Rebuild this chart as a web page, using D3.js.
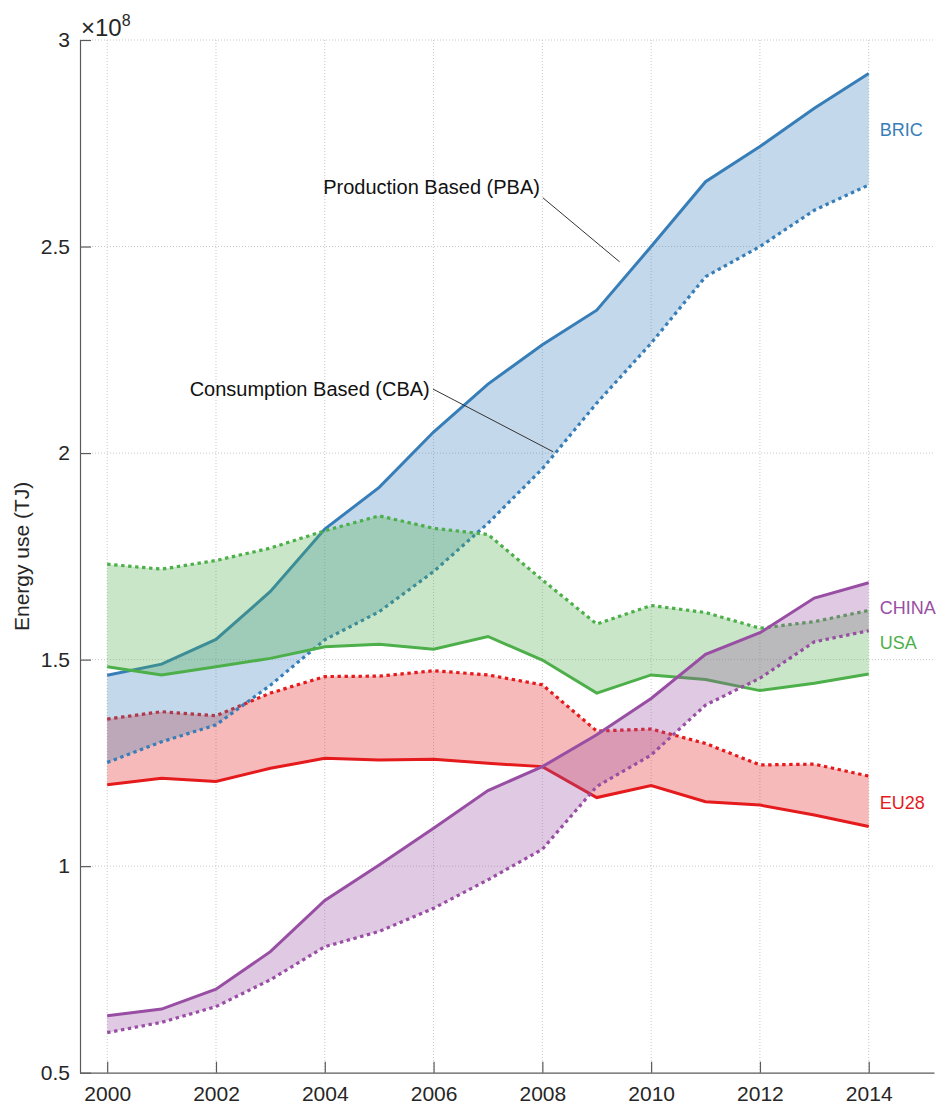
<!DOCTYPE html>
<html>
<head>
<meta charset="utf-8">
<script src="https://cdn.jsdelivr.net/npm/d3@7"></script>
<style>
  body { margin: 0; background: #fff; }
  svg text { font-family: "Liberation Sans", Arial, Helvetica, sans-serif; }
</style>
</head>
<body>
<div id="chart"></div>
<script>
// energy use, in units of 1e8 TJ
const years = [2000, 2001, 2002, 2003, 2004, 2005, 2006, 2007, 2008, 2009, 2010, 2011, 2012, 2013, 2014];

const bricPBA = [1.462, 1.489, 1.549, 1.665, 1.816, 1.917, 2.051, 2.167, 2.262, 2.346, 2.500, 2.657, 2.742, 2.835, 2.919];
const bricCBA = [1.251, 1.301, 1.342, 1.438, 1.548, 1.616, 1.713, 1.830, 1.962, 2.121, 2.266, 2.427, 2.500, 2.588, 2.649];

const usaPBA = [1.483, 1.463, 1.483, 1.503, 1.531, 1.537, 1.525, 1.556, 1.499, 1.419, 1.463, 1.452, 1.425, 1.443, 1.465];
const usaCBA = [1.731, 1.719, 1.740, 1.770, 1.812, 1.848, 1.818, 1.803, 1.693, 1.586, 1.631, 1.614, 1.576, 1.592, 1.619];

const eu28PBA = [1.197, 1.213, 1.205, 1.237, 1.261, 1.257, 1.259, 1.249, 1.241, 1.166, 1.195, 1.156, 1.148, 1.124, 1.096];
const eu28CBA = [1.356, 1.374, 1.364, 1.419, 1.459, 1.460, 1.473, 1.463, 1.439, 1.327, 1.332, 1.297, 1.245, 1.247, 1.218];

const chinaPBA = [0.638, 0.654, 0.702, 0.793, 0.917, 1.003, 1.092, 1.183, 1.241, 1.318, 1.406, 1.513, 1.565, 1.649, 1.686];
const chinaCBA = [0.597, 0.622, 0.660, 0.725, 0.805, 0.842, 0.898, 0.967, 1.041, 1.193, 1.269, 1.390, 1.455, 1.543, 1.570];

const xTicks = [2000, 2002, 2004, 2006, 2008, 2010, 2012, 2014];
const yTicks = [0.5, 1, 1.5, 2, 2.5, 3];

// label heights at the right end (same units as the data)
const labelNames = ["BRIC", "CHINA", "USA", "EU28"];
const labelValues = [2.782, 1.625, 1.540, 1.153];

// draw order matters: later fills tint earlier lines
const regions = [
  { name: "EU28", color: "#e41a1c", pba: eu28PBA, cba: eu28CBA },
  { name: "BRIC", color: "#377eb8", pba: bricPBA, cba: bricCBA },
  { name: "USA", color: "#4daf4a", pba: usaPBA, cba: usaCBA },
  { name: "CHINA", color: "#984ea3", pba: chinaPBA, cba: chinaCBA }
];

const width = 938;
const height = 1106;
const margin = { top: 40, right: 4, bottom: 33.3, left: 80 };

const svg = d3.select("#chart")
  .append("svg")
  .attr("width", width)
  .attr("height", height);

const x = d3.scaleLinear()
  .domain([1999.5, 2015.2])
  .range([margin.left, width - margin.right]);

const y = d3.scaleLinear()
  .domain([0.5, 3])
  .range([height - margin.bottom, margin.top]);

// grid
const grid = svg.append("g").attr("class", "grid");
grid.selectAll(".vgrid")
  .data(xTicks)
  .join("line")
  .attr("x1", d => x(d)).attr("x2", d => x(d))
  .attr("y1", y(3)).attr("y2", y(0.5))
  .attr("stroke", "#c8c8c8")
  .attr("stroke-width", 1)
  .attr("stroke-dasharray", "1,2");
grid.selectAll(".hgrid")
  .data(yTicks.filter(d => d > 0.5))
  .join("line")
  .attr("x1", x.range()[0]).attr("x2", x.range()[1])
  .attr("y1", d => y(d)).attr("y2", d => y(d))
  .attr("stroke", "#c8c8c8")
  .attr("stroke-width", 1)
  .attr("stroke-dasharray", "1,2");

// bands and lines
const area = d3.area()
  .x((d, i) => x(years[i]))
  .y0(d => y(d[0]))
  .y1(d => y(d[1]));
const line = d3.line()
  .x((d, i) => x(years[i]))
  .y(d => y(d));

regions.forEach(r => {
  const g = svg.append("g").attr("class", "region " + r.name);
  g.append("path")
    .datum(r.pba.map((v, i) => [v, r.cba[i]]))
    .attr("d", area)
    .attr("fill", r.color)
    .attr("fill-opacity", 0.3)
    .attr("stroke", "none");
  g.append("path")
    .datum(r.cba)
    .attr("d", line)
    .attr("fill", "none")
    .attr("stroke", r.color)
    .attr("stroke-width", 3.2)
    .attr("stroke-dasharray", "3.4,3.6");
  g.append("path")
    .datum(r.pba)
    .attr("d", line)
    .attr("fill", "none")
    .attr("stroke", r.color)
    .attr("stroke-width", 3);
});

// axes (ticks pointing inward, like matlab)
const xAxis = svg.append("g")
  .attr("transform", `translate(0,${y(0.5)})`)
  .call(d3.axisBottom(x).tickValues(xTicks).tickFormat(d3.format("d")).tickSizeInner(-11).tickSizeOuter(0).tickPadding(13));
const yAxis = svg.append("g")
  .attr("transform", `translate(${x(1999.5)},0)`)
  .call(d3.axisLeft(y).tickValues(yTicks).tickFormat(d => String(d)).tickSizeInner(-11).tickSizeOuter(0).tickPadding(10));

[xAxis, yAxis].forEach(a => {
  a.select(".domain").attr("stroke", "#5a5a5a").attr("stroke-width", 1.2);
  a.selectAll(".tick line").attr("stroke", "#5a5a5a").attr("stroke-width", 1.2);
  a.selectAll(".tick text")
    .attr("fill", "#262626")
    .style("font-size", "21px")
    .style("font-family", "'Liberation Sans', Arial, Helvetica, sans-serif");
});
xAxis.selectAll(".tick text").attr("dy", "0.71em");

// exponent
const expo = svg.append("text")
  .attr("x", x(1999.5) + 1)
  .attr("y", 36)
  .attr("fill", "#262626")
  .style("font-size", "24px");
expo.append("tspan").text("×10");
expo.append("tspan").attr("dy", -10).style("font-size", "16px").text("8");

// y label
svg.append("text")
  .attr("transform", `translate(29,${(y(3) + y(0.5)) / 2}) rotate(-90)`)
  .attr("text-anchor", "middle")
  .attr("fill", "#262626")
  .style("font-size", "21px")
  .text("Energy use (TJ)");

// series labels at the right end
labelNames.forEach((name, i) => {
  const r = regions.find(d => d.name === name);
  svg.append("text")
    .attr("x", x(2014) + 11)
    .attr("y", y(labelValues[i]))
    .attr("dy", "0.35em")
    .attr("fill", r.color)
    .style("font-size", "18px")
    .text(name);
});

// annotations
const notes = [
  { text: "Production Based (PBA)", tx: 2003.97, ty: 2.644, anchor: "start", from: [2008.01, 2.618], to: [2009.42, 2.463] },
  { text: "Consumption Based (CBA)", tx: 2005.93, ty: 2.155, anchor: "end", from: [2005.99, 2.155], to: [2008.2, 2.003] }
];
notes.forEach(n => {
  svg.append("line")
    .attr("x1", x(n.from[0])).attr("y1", y(n.from[1]))
    .attr("x2", x(n.to[0])).attr("y2", y(n.to[1]))
    .attr("stroke", "#333")
    .attr("stroke-width", 1);
  svg.append("text")
    .attr("x", x(n.tx))
    .attr("y", y(n.ty))
    .attr("dy", "0.35em")
    .attr("text-anchor", n.anchor)
    .attr("fill", "#111")
    .style("font-size", "20px")
    .text(n.text);
});
</script>
</body>
</html>
